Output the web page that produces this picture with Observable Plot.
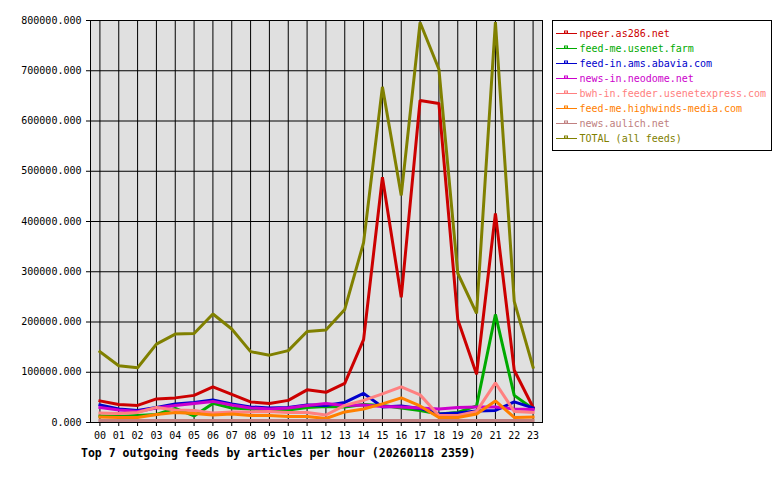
<!DOCTYPE html>
<html>
<head>
<meta charset="utf-8">
<script src="https://cdn.jsdelivr.net/npm/d3@7"></script>
<script src="https://cdn.jsdelivr.net/npm/@observablehq/plot@0.6"></script>
<style>
  html, body { margin: 0; padding: 0; background: #ffffff; }
  #chart svg { display: block; }
</style>
</head>
<body>
<div id="chart"></div>
<script>
// Hour-of-day categories (x axis)
const hourLabels = ["00","01","02","03","04","05","06","07","08","09","10","11",
                    "12","13","14","15","16","17","18","19","20","21","22","23"];

// y axis tick values
const yTicks = [0, 100000, 200000, 300000, 400000, 500000, 600000, 700000, 800000];

// Feed names and colours, in legend order
const feedNames = [
  "npeer.as286.net",
  "feed-me.usenet.farm",
  "feed-in.ams.abavia.com",
  "news-in.neodome.net",
  "bwh-in.feeder.usenetexpress.com",
  "feed-me.highwinds-media.com",
  "news.aulich.net",
  "TOTAL (all feeds)"
];
const feedColors = ["#cc0000", "#00aa00", "#0000cc", "#cc00cc", "#ff8080", "#ff8000", "#c08080", "#808000"];

// Articles per hour for each feed
const npeer    = [43000, 36000, 34000, 47000, 49000, 54000, 71000, 56000, 41000, 38000, 44000, 65000,
                  60000, 78000, 165000, 488000, 249000, 641000, 635000, 205000, 96000, 416000, 104000, 30000];
const usenetFarm = [13000, 12000, 14000, 16000, 28000, 13000, 38000, 29000, 27000, 25000, 25000, 30000,
                  32000, 31000, 36000, 34000, 29000, 24000, 17000, 20000, 33000, 215000, 54000, 27000];
const abavia   = [35000, 27000, 24000, 30000, 37000, 40000, 45000, 37000, 31000, 29000, 30000, 35000,
                  34000, 40000, 58000, 31000, 33000, 28000, 17000, 19000, 23000, 24000, 41000, 29000];
const neodome  = [30000, 25000, 22000, 29000, 34000, 38000, 42000, 35000, 29000, 27000, 29000, 34000,
                  38000, 34000, 35000, 32000, 31000, 29000, 27000, 30000, 31000, 31000, 27000, 26000];
const usenetExpress = [19000, 18000, 20000, 30000, 25000, 24000, 19000, 21000, 21000, 22000, 20000, 20000,
                  15000, 34000, 44000, 57000, 71000, 55000, 14000, 14000, 22000, 79000, 22000, 20000];
const highwinds = [11000, 10000, 10000, 16000, 20000, 18000, 15000, 17000, 14000, 14000, 12000, 12000,
                  8000, 21000, 27000, 37000, 49000, 33000, 10000, 10000, 17000, 43000, 10000, 11000];
const aulich   = [4000, 4000, 4000, 4000, 4000, 4000, 4000, 4000, 4000, 4000, 4000, 4000,
                  4000, 4000, 4000, 4000, 4000, 4000, 4000, 4000, 4000, 4000, 4000, 4000];
const total    = [141000, 113000, 109000, 156000, 176000, 177000, 216000, 186000, 141000, 134000, 143000, 181000,
                  184000, 225000, 358000, 668000, 452000, 796000, 703000, 297000, 217000, 797000, 241000, 110000];

const seriesValues = [npeer, usenetFarm, abavia, neodome, usenetExpress, highwinds, aulich, total];

// Long table for Plot
const rows = [];
feedNames.forEach((name, k) => {
  seriesValues[k].forEach((v, i) => rows.push({feed: name, hour: i, value: v}));
});
const hourIndex = hourLabels.map((_, i) => i);

const W = 780, H = 480;
const frameLeft = 90, frameRight = 542, frameTop = 20, frameBottom = 422;
const mono = "'DejaVu Sans Mono', 'Liberation Mono', monospace";

const chart = Plot.plot({
  width: W,
  height: H,
  marginLeft: frameLeft,
  marginRight: W - frameRight,
  marginTop: frameTop,
  marginBottom: H - frameBottom,
  style: {fontFamily: mono, fontSize: "10px", background: "#ffffff", color: "#000000", overflow: "visible"},
  x: {type: "linear", domain: [-0.5, 23.5]},
  y: {domain: [0, 800000]},
  color: {domain: feedNames, range: feedColors},
  marks: [
    Plot.frame({fill: "#e0e0e0", stroke: null}),
    Plot.gridX(hourIndex, {stroke: "#000000", strokeOpacity: 1, strokeWidth: 1}),
    Plot.gridY(yTicks, {stroke: "#000000", strokeOpacity: 1, strokeWidth: 1}),
    Plot.frame({stroke: "#000000", strokeWidth: 1}),
    Plot.axisX(hourIndex, {tickFormat: i => hourLabels[i], tickSize: 4, tickPadding: 5, label: null, fill: "#000000"}),
    Plot.axisY(yTicks, {tickFormat: d => d.toFixed(3), tickSize: 4, tickPadding: 5, label: null, fill: "#000000"}),
    Plot.line(rows, {x: "hour", y: "value", z: "feed", stroke: "feed", strokeWidth: 3,
                     strokeLinejoin: "miter", strokeLinecap: "square", curve: "linear"})
  ]
});

document.getElementById("chart").appendChild(chart);

const svg = d3.select(chart);

// Caption under the x axis
svg.append("text")
  .attr("x", 81)
  .attr("y", 457)
  .attr("text-anchor", "start")
  .attr("font-family", mono)
  .attr("font-size", "11.5px")
  .attr("font-weight", "bold")
  .attr("fill", "#000000")
  .text("Top 7 outgoing feeds by articles per hour (20260118 2359)");

// Legend box to the right of the plot
const legend = svg.append("g").attr("text-anchor", "start");
legend.append("rect")
  .attr("x", 552.5).attr("y", 20.5)
  .attr("width", 219).attr("height", 130)
  .attr("fill", "#ffffff").attr("stroke", "#000000").attr("stroke-width", 1);

feedNames.forEach((name, k) => {
  const y = 33.5 + 15 * k;
  const c = feedColors[k];
  legend.append("line")
    .attr("x1", 556).attr("x2", 577).attr("y1", y).attr("y2", y)
    .attr("stroke", c).attr("stroke-width", 1);
  legend.append("rect")
    .attr("x", 564.5).attr("y", y - 2.5).attr("width", 3).attr("height", 2)
    .attr("fill", "none").attr("stroke", c).attr("stroke-width", 1);
  legend.append("text")
    .attr("x", 579.5).attr("y", y).attr("dy", "0.35em")
    .attr("text-anchor", "start")
    .attr("font-family", mono).attr("font-size", "10px")
    .attr("fill", c)
    .text(name);
});
</script>
</body>
</html>
